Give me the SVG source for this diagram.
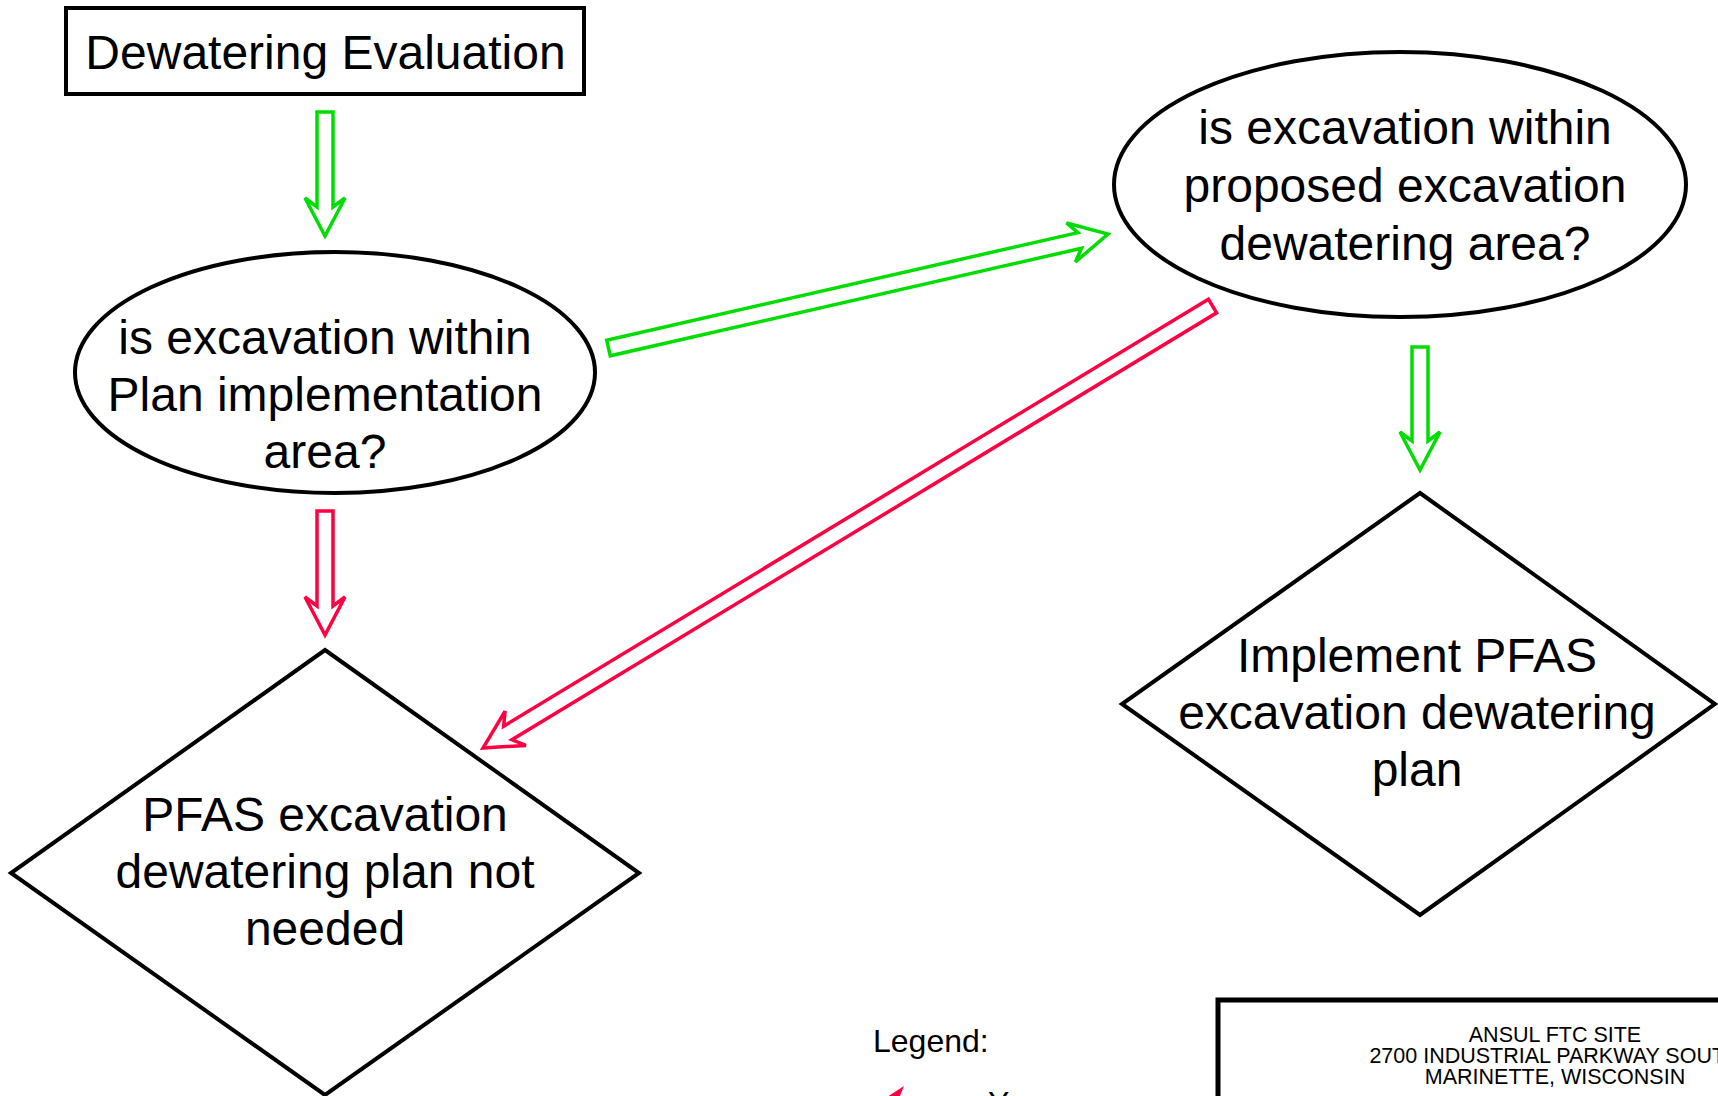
<svg xmlns="http://www.w3.org/2000/svg" width="1718" height="1096" viewBox="0 0 1718 1096">
  <style>
    .shape { fill: #ffffff; stroke: #000000; stroke-width: 4; }
    .lbl { font-family: "Liberation Sans", Arial, sans-serif; font-size: 48px; fill: #000000; text-anchor: middle; }
    .small { font-family: "Liberation Sans", Arial, sans-serif; font-size: 21.5px; fill: #000000; text-anchor: middle; }
    .legend { font-family: "Liberation Sans", Arial, sans-serif; font-size: 32px; fill: #000000; }
    .yes { fill: #ffffff; stroke: #00dd00; stroke-width: 3.5; stroke-linejoin: miter; }
    .no { fill: #ffffff; stroke: #ff0040; stroke-width: 3.5; stroke-linejoin: miter; }
  </style>
  <rect x="0" y="0" width="1718" height="1096" fill="#ffffff"/>

  <g id="start">
    <rect class="shape" x="66" y="8" width="518" height="86"/>
    <text class="lbl" x="325.5" y="69">Dewatering Evaluation</text>
  </g>

  <g id="q-plan-area">
    <ellipse class="shape" cx="335" cy="372.5" rx="260" ry="120.5"/>
    <text class="lbl" x="325" y="354">is excavation within</text>
    <text class="lbl" x="325" y="411">Plan implementation</text>
    <text class="lbl" x="325" y="468">area?</text>
  </g>

  <g id="q-dewatering-area">
    <ellipse class="shape" cx="1400" cy="184.5" rx="286" ry="132.5"/>
    <text class="lbl" x="1405" y="144">is excavation within</text>
    <text class="lbl" x="1405" y="202">proposed excavation</text>
    <text class="lbl" x="1405" y="260">dewatering area?</text>
  </g>

  <g id="not-needed">
    <polygon class="shape" points="325,650 639,873 325,1095 11,873"/>
    <text class="lbl" x="325" y="831">PFAS excavation</text>
    <text class="lbl" x="325" y="888">dewatering plan not</text>
    <text class="lbl" x="325" y="945">needed</text>
  </g>

  <g id="implement">
    <polygon class="shape" points="1420,493 1715,704 1420,915 1122,704"/>
    <text class="lbl" x="1417" y="672">Implement PFAS</text>
    <text class="lbl" x="1417" y="729">excavation dewatering</text>
    <text class="lbl" x="1417" y="786">plan</text>
  </g>

  <g id="connectors">
    <polygon class="yes" points="317,112 317,207 305,198 325,236 345,198 333,207 333,112"/>
    <polygon class="yes" points="606.7,340.2 1077.9,232.6 1066.5,223 1108,234 1075.4,262 1081.5,248.3 610.3,355.8"/>
    <polygon class="no" points="317,511 317,606 305,597 325,635 345,597 333,606 333,511"/>
    <polygon class="no" points="1208.4,299.2 503.65,726.2 505.1,711.2 483,748 525.9,745.4 511.95,739.8 1216.6,312.8"/>
    <polygon class="yes" points="1412,347 1412,441 1400,432 1420,470 1440,432 1428,441 1428,347"/>
  </g>

  <g id="legend">
    <text class="legend" x="873" y="1052">Legend:</text>
    <polygon points="904,1086 884,1099 897,1103" fill="#ff0040"/>
    <text class="legend" x="988" y="1114">Y</text>
  </g>

  <g id="title-block">
    <rect x="1218" y="1000" width="600" height="200" fill="#ffffff" stroke="#000000" stroke-width="5"/>
    <text class="small" x="1555" y="1042">ANSUL FTC SITE</text>
    <text class="small" x="1555" y="1063">2700 INDUSTRIAL PARKWAY SOUTH</text>
    <text class="small" x="1555" y="1084">MARINETTE, WISCONSIN</text>
  </g>
</svg>
